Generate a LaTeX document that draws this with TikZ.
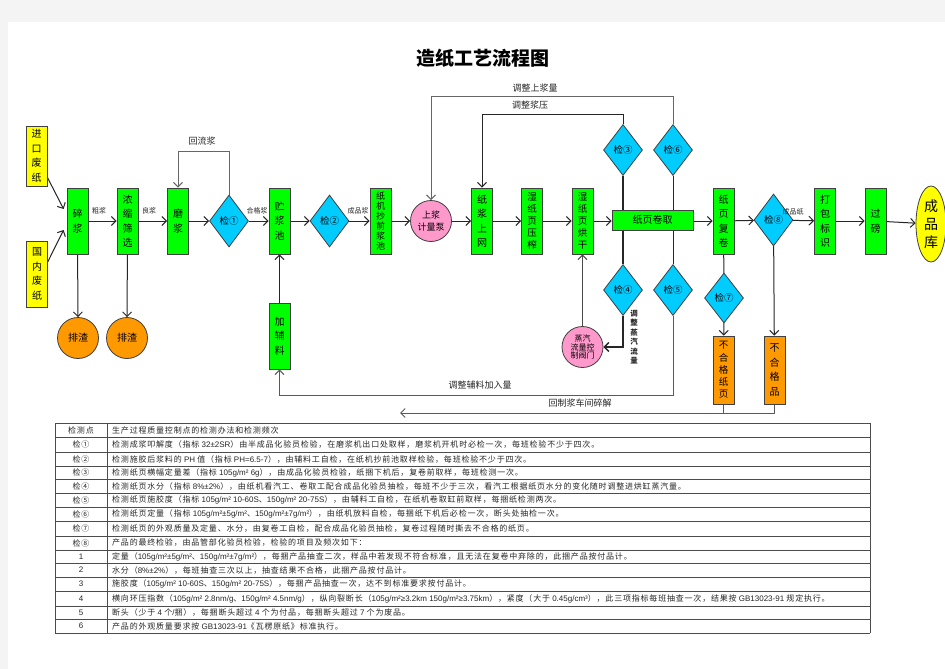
\documentclass[tikz,border=0pt]{standalone}
\usepackage{fontspec}
\setmainfont{Noto Sans CJK SC}
\newfontfamily\tabfont[LetterSpace=10]{Noto Sans CJK SC}
\newfontfamily\latfont{Liberation Sans}
\newcommand\latn[1]{{\latfont #1}}
\usetikzlibrary{arrows.meta,shapes.geometric,calc}
\pgfdeclarelayer{pagelayer}
\pgfdeclarelayer{linelayer}
\pgfsetlayers{pagelayer,linelayer,main}
\definecolor{cgreen}{RGB}{0,255,0}
\definecolor{cyellow}{RGB}{255,255,0}
\definecolor{ccyan}{RGB}{0,204,255}
\definecolor{corange}{RGB}{255,153,0}
\definecolor{cpink}{RGB}{255,153,204}
\definecolor{cpage}{RGB}{244,244,244}
\tikzset{
 vbox/.style={draw=black!75, line width=0.8pt, minimum width=21pt, minimum height=66pt, inner sep=0pt, align=center, font=\fontsize{10}{14.5}\selectfont},
 greenbox/.style={vbox, fill=cgreen},
 yellowbox/.style={vbox, fill=cyellow},
 orangebox/.style={vbox, fill=corange, minimum height=68pt},
 fivechar/.style={font=\fontsize{9.5}{12.2}\selectfont},
 chk/.style={diamond, draw=black!75, line width=0.8pt, fill=ccyan, minimum width=39pt, minimum height=52pt, inner sep=0pt, font=\fontsize{9.5}{10}\selectfont},
 rnd/.style={circle, draw=black!75, line width=0.8pt, minimum size=41pt, inner sep=0pt, align=center},
 arr/.style={draw=black!85, line width=1pt, -{Straight Barb[length=4.5pt,width=9pt]}},
 ln/.style={draw=black!85, line width=1pt},
 lbl/.style={inner sep=0pt, font=\fontsize{9}{10}\selectfont, text=black!85},
 slbl/.style={inner sep=0pt, font=\fontsize{7}{8}\selectfont, text=black!85},
 tcell/.style={inner sep=0pt, font=\tabfont\fontsize{8}{9}\selectfont, text=black!85},
 tline/.style={draw=black!70, line width=0.8pt},
}
\begin{document}
\begin{tikzpicture}[x=1pt,y=-1pt]
\useasboundingbox (0,0) rectangle (945,669);
\begin{pgfonlayer}{pagelayer}
\fill[cpage] (0,0) rectangle (945,669);
\fill[white] (8,22) rectangle (945,669);
\end{pgfonlayer}

\node[font=\fontsize{19}{20}\selectfont\bfseries] (title) at (483,58) {造纸工艺流程图};

% raw material
\node[yellowbox, minimum height=60pt] (jk) at (36.5,156) {进\\口\\废\\纸};
\node[yellowbox] (gn) at (37,274) {国\\内\\废\\纸};
% main line
\node[greenbox] (sj) at (77.5,221) {碎\\浆};
\node[greenbox] (nsx) at (127.5,221) {浓\\缩\\筛\\选};
\node[greenbox] (mj) at (178,221) {磨\\浆};
\node[chk] (j1) at (229,221) {检①};
\node[greenbox] (zcc) at (279.5,221) {贮\\浆\\池};
\node[greenbox] (jfl) at (279.5,336) {加\\辅\\料};
\node[chk] (j2) at (329.5,221) {检②};
\node[greenbox, font=\fontsize{9}{10}\selectfont] (zjq) at (380.5,221) {纸\\机\\抄\\前\\浆\\池};
\node[rnd, fill=cpink, font=\fontsize{9}{12}\selectfont] (sjb) at (431,221) {上浆\\计量泵};
\node[greenbox] (zsw) at (482,221) {纸\\浆\\上\\网};
\node[greenbox, fivechar] (ys) at (532,221) {湿\\纸\\页\\压\\榨};
\node[greenbox, fivechar] (hg) at (582.5,221) {湿\\纸\\页\\烘\\干};
\node[vbox, fill=cgreen, minimum width=81pt, minimum height=20pt] (jq) at (652.5,220) {纸页卷取};
\node[chk, minimum height=51pt] (j3) at (623,150) {检③};
\node[chk, minimum height=51pt] (j6) at (673,150) {检⑥};
\node[chk, minimum height=51pt] (j4) at (623,290) {检④};
\node[chk, minimum height=51pt] (j5) at (673,290) {检⑤};
\node[rnd, fill=cpink, font=\fontsize{8}{8.5}\selectfont] (zq) at (582.5,347) {蒸汽\\流量控\\制阀门};
\node[greenbox] (fj) at (723.5,221) {纸\\页\\复\\卷};
\node[chk] (j8) at (773.5,220) {检⑧};
\node[greenbox] (db) at (825,221) {打\\包\\标\\识};
\node[greenbox] (gb) at (875.5,221) {过\\磅};
\node[ellipse, draw=black!75, line width=0.8pt, fill=cyellow, minimum width=30pt, minimum height=76pt, inner sep=0pt, align=center, font=\fontsize{14}{18}\selectfont] (cpk) at (931,224) {成\\品\\库};
\node[chk, minimum height=50pt] (j7) at (724,298) {检⑦};
\node[orangebox, fivechar] (bhz) at (723.5,370) {不\\合\\格\\纸\\页};
\node[orangebox] (bhp) at (774.5,370) {不\\合\\格\\品};
\node[rnd, fill=corange, font=\fontsize{10}{12}\selectfont] (ps1) at (78,338) {排渣};
\node[rnd, fill=corange, font=\fontsize{10}{12}\selectfont] (ps2) at (127,338) {排渣};

\coordinate (hz) at (400,413);

\begin{pgfonlayer}{linelayer}
\draw[arr] ($(jk.south east)+(0,-9)$) -- ($(sj.west)+(-3,-12)$);
\draw[arr] ($(gn.north east)+(0,21)$) -- ($(sj.west)+(-3,9)$);
\draw[arr] (sj) -- (ps1);
\draw[arr] (nsx) -- (ps2);
\draw[arr] (sj) -- (nsx);
\draw[arr] (nsx) -- (mj);
\draw[arr] (mj) -- (j1);
\draw[arr] (j1) -- (zcc);
\draw[arr] (jfl) -- (zcc);
\draw[arr] (zcc) -- (j2);
\draw[arr] (j2) -- (zjq);
\draw[arr] (zjq) -- (sjb);
\draw[arr] (sjb) -- (zsw);
\draw[arr] (zsw) -- (ys);
\draw[arr] (ys) -- (hg);
\draw[arr] (hg) -- (hg -| jq.west);
\draw[arr] (jq.east |- fj) -- (fj);
\draw[arr] (fj) -- (j8);
\draw[arr] (j8) -- (db);
\draw[arr] (db) -- (gb);
\draw[arr] (gb) -- (cpk);
% loops
\draw[arr, draw=black!60] (j1.north) -- ++(0,-43) -| (mj.north);
\draw[arr, draw=black!60] (j6.north) -- ++(0,-28) -| (sjb.north);
\draw[arr] (j3.north) -- ++(0,-10) -| (zsw.north);
\draw[ln, line width=1.6pt] (j3.south) -- (j4.north);
\draw[ln] (j6.south) -- (j5.north);
\draw[arr, line width=1.4pt] (j4.south) |- (zq);
\draw[arr, draw=black!70] (zq) -- (hg);
\draw[arr, draw=black!65] (j5.south) -- ++(0,80) -| (jfl.south);
\draw[ln] (fj) -- (j7);
\draw[arr] (j7) -- (bhz);
\draw[arr] (j8) -- (bhp);
\draw[ln, draw=black!65] (bhz.south) -- (bhz.south |- hz);
\draw[arr, draw=black!65] (bhp.south) |- (hz);
\end{pgfonlayer}

% labels
\node[lbl] (l1) at (202,141) {回流浆};
\node[slbl] (l2) at (99,211) {粗浆};
\node[slbl] (l3) at (149,211) {良浆};
\node[slbl] (l4) at (257,211) {合格浆};
\node[slbl] (l5) at (358,211) {成品浆};
\node[slbl] (l6) at (793,212) {成品纸};
\node[lbl] (l7) at (535,88) {调整上浆量};
\node[lbl] (l8) at (530,105) {调整浆压};
\node[lbl] (l9) at (480,385) {调整辅料加入量};
\node[lbl] (l10) at (580,403) {回制浆车间碎解};
\node[slbl, font=\fontsize{7.5}{9.5}\selectfont\bfseries, align=center] (l11) at (634,337) {调\\整\\蒸\\汽\\流\\量};

% table
\foreach \yy in {423,437,452,466,479,493,507,521,536,550,563,577,591,606,619,633}
  \draw[tline] (55,\yy) -- (870,\yy);
\draw[tline] (55,423) -- (55,633);
\draw[tline] (107,423) -- (107,633);
\draw[tline] (870,423) -- (870,633);

\node[tcell] (a0) at (81,430) {检测点};
\node[tcell] (a1) at (81,444.5) {检①};
\node[tcell] (a2) at (81,459) {检②};
\node[tcell] (a3) at (81,472.5) {检③};
\node[tcell] (a4) at (81,486) {检④};
\node[tcell] (a5) at (81,500) {检⑤};
\node[tcell] (a6) at (81,514) {检⑥};
\node[tcell] (a7) at (81,528.5) {检⑦};
\node[tcell] (a8) at (81,543) {检⑧};
\node[tcell] (a9) at (81,556.5) {\latn{1}};
\node[tcell] (a10) at (81,570) {\latn{2}};
\node[tcell] (a11) at (81,584) {\latn{3}};
\node[tcell] (a12) at (81,598.5) {\latn{4}};
\node[tcell] (a13) at (81,612.5) {\latn{5}};
\node[tcell] (a14) at (81,626) {\latn{6}};

\node[tcell, anchor=west] (b0) at (112,430) {生产过程质量控制点的检测办法和检测频次};
\node[tcell, anchor=west] (b1) at (112,444.5) {检测成浆叩解度（指标\latn{ 32±2SR}）由半成品化验员检验，在磨浆机出口处取样，磨浆机开机时必检一次，每班检验不少于四次。};
\node[tcell, anchor=west] (b2) at (112,459) {检测施胶后浆料的\latn{ PH }值（指标\latn{ PH=6.5-7}），由辅料工自检，在纸机抄前池取样检验，每班检验不少于四次。};
\node[tcell, anchor=west] (b3) at (112,472.5) {检测纸页横幅定量差（指标\latn{ 105g/m²  6g}），由成品化验员检验，纸捆下机后，复卷前取样，每班检测一次。};
\node[tcell, anchor=west] (b4) at (112,486) {检测纸页水分（指标\latn{ 8\%±2\%}），由纸机看汽工、卷取工配合成品化验员抽检，每班不少于三次，看汽工根据纸页水分的变化随时调整进烘缸蒸汽量。};
\node[tcell, anchor=west] (b5) at (112,500) {检测纸页施胶度（指标\latn{ 105g/m² 10-60S}、\latn{150g/m² 20-75S}），由辅料工自检，在纸机卷取缸前取样，每捆纸检测两次。};
\node[tcell, anchor=west] (b6) at (112,514) {检测纸页定量（指标\latn{ 105g/m²±5g/m²}、\latn{150g/m²±7g/m²}），由纸机放料自检，每捆纸下机后必检一次，断头处抽检一次。};
\node[tcell, anchor=west] (b7) at (112,528.5) {检测纸页的外观质量及定量、水分，由复卷工自检，配合成品化验员抽检，复卷过程随时撕去不合格的纸页。};
\node[tcell, anchor=west] (b8) at (112,543) {产品的最终检验，由品管部化验员检验，检验的项目及频次如下：};
\node[tcell, anchor=west] (b9) at (112,556.5) {定量（\latn{105g/m²±5g/m²}、\latn{150g/m²±7g/m²}），每捆产品抽查二次，样品中若发现不符合标准，且无法在复卷中弃除的，此捆产品按付品计。};
\node[tcell, anchor=west] (b10) at (112,570) {水分（\latn{8\%±2\%}），每班抽查三次以上，抽查结果不合格，此捆产品按付品计。};
\node[tcell, anchor=west] (b11) at (112,584) {施胶度（\latn{105g/m² 10-60S}、\latn{150g/m² 20-75S}），每捆产品抽查一次，达不到标准要求按付品计。};
\node[tcell, anchor=west] (b12) at (112,598.5) {横向环压指数（\latn{105g/m² 2.8nm/g}、\latn{150g/m² 4.5nm/g}），纵向裂断长（\latn{105g/m²≥3.2km 150g/m²≥3.75km}），紧度（大于\latn{ 0.45g/cm³}），此三项指标每班抽查一次，结果按\latn{ GB13023-91 }规定执行。};
\node[tcell, anchor=west] (b13) at (112,612.5) {断头（少于\latn{ 4 }个\latn{/}捆），每捆断头超过\latn{ 4 }个为付品，每捆断头超过\latn{ 7 }个为废品。};
\node[tcell, anchor=west] (b14) at (112,626) {产品的外观质量要求按\latn{ GB13023-91}《瓦楞原纸》标准执行。};
\end{tikzpicture}
\end{document}
